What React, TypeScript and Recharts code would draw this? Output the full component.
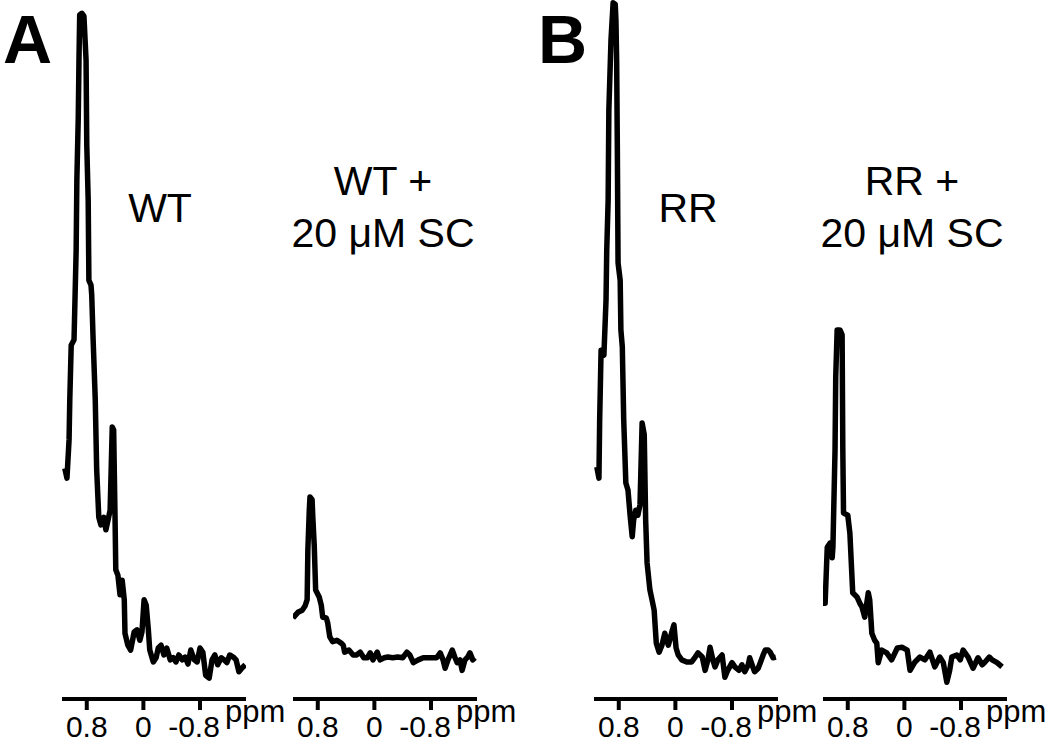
import * as React from 'react';
import { LineChart, Line, XAxis, YAxis, Label } from 'recharts';

// chemical shift (ppm) and intensity (a.u.)
const wtPpm = [1.11, 1.08, 1.05, 1.04, 1.02, 0.98, 0.95, 0.94, 0.92, 0.91, 0.9, 0.87, 0.84, 0.81, 0.8, 0.78, 0.77, 0.74, 0.73, 0.71, 0.68, 0.66, 0.63, 0.6, 0.56, 0.53, 0.5, 0.47, 0.44, 0.42, 0.4, 0.39, 0.36, 0.33, 0.3, 0.27, 0.26, 0.22, 0.18, 0.13, 0.09, 0.05, 0.02, -0.01, -0.04, -0.07, -0.09, -0.14, -0.18, -0.21, -0.25, -0.29, -0.33, -0.38, -0.42, -0.46, -0.5, -0.55, -0.59, -0.63, -0.67, -0.72, -0.76, -0.8, -0.84, -0.88, -0.93, -0.97, -1.01, -1.05, -1.1, -1.14, -1.18, -1.22, -1.27, -1.31, -1.35, -1.39, -1.44];
const wtIntensity = [33.0, 31.6, 37.1, 42.8, 50.6, 51.4, 64.2, 74.2, 83.3, 91.4, 97.9, 98.1, 97.7, 91.4, 79.3, 71.4, 59.9, 59.2, 57.8, 51.4, 42.8, 32.8, 26.0, 24.9, 26.0, 24.2, 25.6, 27.0, 38.9, 38.5, 25.6, 18.5, 17.7, 14.9, 17.0, 14.2, 9.4, 7.7, 7.0, 9.6, 9.9, 8.4, 9.6, 14.2, 13.4, 9.9, 7.0, 5.3, 5.9, 7.3, 7.7, 6.3, 7.3, 5.6, 5.9, 5.3, 6.3, 5.6, 6.0, 5.0, 7.0, 5.6, 5.3, 7.3, 6.7, 3.4, 3.0, 5.6, 6.3, 4.9, 5.9, 5.6, 5.2, 6.3, 6.0, 5.6, 3.9, 4.4, 4.9];

const wtScPpm = [1.15, 1.08, 1.02, 0.98, 0.95, 0.94, 0.92, 0.91, 0.88, 0.87, 0.85, 0.83, 0.78, 0.75, 0.73, 0.68, 0.66, 0.63, 0.59, 0.53, 0.47, 0.44, 0.42, 0.36, 0.3, 0.25, 0.2, 0.15, 0.1, 0.06, 0.02, -0.04, -0.08, -0.14, -0.19, -0.26, -0.33, -0.4, -0.46, -0.5, -0.55, -0.62, -0.69, -0.79, -0.88, -0.93, -0.97, -1.0, -1.04, -1.1, -1.14, -1.17, -1.21, -1.24, -1.28, -1.32, -1.35, -1.39, -1.42];
const wtScIntensity = [11.6, 12.4, 12.7, 13.3, 14.2, 21.3, 27.0, 28.9, 28.5, 26.0, 22.0, 15.6, 14.6, 13.4, 11.7, 11.6, 10.9, 8.9, 8.2, 8.4, 8.0, 7.7, 6.7, 7.0, 6.3, 6.3, 6.7, 5.9, 5.9, 6.6, 5.6, 6.7, 5.6, 5.9, 6.0, 5.9, 6.0, 5.9, 6.7, 6.3, 5.2, 5.6, 5.9, 5.9, 5.9, 6.6, 5.6, 4.4, 5.6, 7.0, 5.9, 5.2, 5.6, 4.1, 5.6, 6.0, 6.6, 5.6, 5.9];

const rrPpm = [1.11, 1.08, 1.07, 1.05, 1.01, 0.98, 0.97, 0.95, 0.94, 0.91, 0.88, 0.85, 0.84, 0.83, 0.82, 0.81, 0.78, 0.77, 0.75, 0.73, 0.7, 0.67, 0.64, 0.61, 0.59, 0.56, 0.53, 0.5, 0.47, 0.44, 0.42, 0.4, 0.36, 0.33, 0.3, 0.27, 0.23, 0.19, 0.15, 0.1, 0.08, 0.05, 0.02, -0.01, -0.04, -0.09, -0.16, -0.23, -0.28, -0.32, -0.38, -0.42, -0.46, -0.49, -0.53, -0.56, -0.6, -0.66, -0.7, -0.74, -0.8, -0.84, -0.9, -0.94, -0.98, -1.03, -1.05, -1.1, -1.12, -1.17, -1.2, -1.24, -1.27, -1.31, -1.34, -1.38, -1.42];
const rrIntensity = [33.2, 31.6, 39.9, 49.9, 49.2, 57.1, 64.2, 71.4, 84.3, 94.3, 99.6, 99.4, 97.1, 91.4, 78.5, 62.4, 59.9, 52.8, 50.4, 39.9, 30.9, 29.9, 26.3, 23.2, 25.6, 27.0, 26.3, 27.8, 39.5, 37.8, 25.6, 19.5, 15.6, 14.2, 12.7, 8.0, 6.7, 7.7, 9.4, 7.7, 8.4, 9.6, 10.6, 7.3, 6.3, 5.6, 5.3, 5.3, 6.0, 6.6, 6.0, 4.1, 5.6, 7.4, 5.6, 4.6, 5.6, 6.3, 3.1, 4.1, 5.2, 4.6, 4.1, 4.9, 3.9, 4.9, 5.9, 4.4, 3.9, 4.4, 5.2, 6.3, 7.0, 7.0, 6.7, 5.9, 6.0];

const rrScPpm = [1.15, 1.12, 1.09, 1.05, 1.02, 1.01, 0.98, 0.97, 0.95, 0.91, 0.88, 0.87, 0.86, 0.8, 0.77, 0.73, 0.67, 0.63, 0.6, 0.56, 0.51, 0.49, 0.46, 0.42, 0.39, 0.37, 0.32, 0.25, 0.18, 0.1, 0.03, -0.04, -0.08, -0.15, -0.22, -0.29, -0.36, -0.43, -0.5, -0.55, -0.6, -0.64, -0.67, -0.74, -0.79, -0.83, -0.9, -0.97, -1.04, -1.1, -1.14, -1.2, -1.24, -1.31, -1.38];
const rrScIntensity = [13.7, 13.7, 21.7, 22.3, 20.2, 21.7, 35.6, 46.1, 52.8, 52.8, 52.1, 35.6, 26.6, 26.3, 23.7, 15.2, 14.6, 13.7, 13.2, 11.7, 15.2, 14.2, 9.4, 8.4, 8.0, 5.2, 7.0, 6.6, 5.6, 7.3, 7.4, 7.0, 4.1, 5.3, 6.0, 5.6, 6.7, 4.6, 6.0, 5.2, 2.4, 4.1, 6.0, 6.3, 5.6, 7.0, 6.0, 4.4, 5.9, 4.9, 5.3, 6.0, 5.6, 5.2, 4.6];

const ppmTicks = [0.8, 0, -0.8];
const ppmDomain = [-1.45, 1.15];

const FONT = 'Arial, "Liberation Sans", sans-serif';
const AXIS_W = 184;
const PAD_L = 10;
const PAD_R = 60;

function PpmTick({ x, y, payload }: any) {
  const v = payload.value;
  return (
    <text
      x={x + (v < 0 ? -6 : 0)}
      y={y + 25}
      textAnchor="middle"
      fontFamily={FONT}
      fontSize={30}
      fill="#000"
    >
      {String(v)}
    </text>
  );
}

function PpmLabel({ viewBox }: any) {
  if (!viewBox) return null;
  return (
    <text
      x={viewBox.x + viewBox.width - 21}
      y={viewBox.y + 23}
      fontFamily={FONT}
      fontSize={31}
      fill="#000"
    >
      ppm
    </text>
  );
}

function Spectrum({ ppm, intensity, left }: { ppm: number[]; intensity: number[]; left: number }) {
  const data = ppm.map((p, i) => ({ ppm: p, intensity: intensity[i] }));
  return (
    <div style={{ position: 'absolute', left: left - PAD_L, top: 0 }}>
      <LineChart
        width={PAD_L + AXIS_W + PAD_R}
        height={744}
        data={data}
        margin={{ top: 0, right: PAD_R, left: PAD_L, bottom: 0 }}
      >
        <XAxis
          dataKey="ppm"
          type="number"
          domain={ppmDomain}
          reversed
          allowDataOverflow
          ticks={ppmTicks}
          height={45}
          tickSize={11}
          axisLine={{ stroke: '#000', strokeWidth: 4 }}
          tickLine={{ stroke: '#000', strokeWidth: 4 }}
          tick={<PpmTick />}
          interval={0}
        >
          <Label content={<PpmLabel />} />
        </XAxis>
        <YAxis hide domain={[0, 100]} allowDataOverflow />
        <Line
          dataKey="intensity"
          type="linear"
          stroke="#000"
          strokeWidth={5.5}
          strokeLinejoin="round"
          dot={false}
          isAnimationActive={false}
        />
      </LineChart>
    </div>
  );
}

export default function App() {
  return (
    <div style={{ position: 'absolute', left: 0, top: 0, width: 1050, height: 744, background: '#fff' }}>
      <Spectrum ppm={wtPpm} intensity={wtIntensity} left={62} />
      <Spectrum ppm={wtScPpm} intensity={wtScIntensity} left={293} />
      <Spectrum ppm={rrPpm} intensity={rrIntensity} left={594} />
      <Spectrum ppm={rrScPpm} intensity={rrScIntensity} left={823} />
      <svg
        width={1050}
        height={744}
        style={{ position: 'absolute', left: 0, top: 0, pointerEvents: 'none' }}
        fontFamily={FONT}
        fill="#000"
      >
        <text x={3} y={63} fontSize={68} fontWeight="bold">A</text>
        <text x={538} y={63} fontSize={68} fontWeight="bold">B</text>
        <text x={160} y={222} fontSize={41} textAnchor="middle">WT</text>
        <text x={383} y={195} fontSize={41} textAnchor="middle">WT +</text>
        <text x={383} y={247} fontSize={41} textAnchor="middle">20 μM SC</text>
        <text x={688} y={222} fontSize={41} textAnchor="middle">RR</text>
        <text x={912} y={195} fontSize={41} textAnchor="middle">RR +</text>
        <text x={912} y={247} fontSize={41} textAnchor="middle">20 μM SC</text>
      </svg>
    </div>
  );
}
